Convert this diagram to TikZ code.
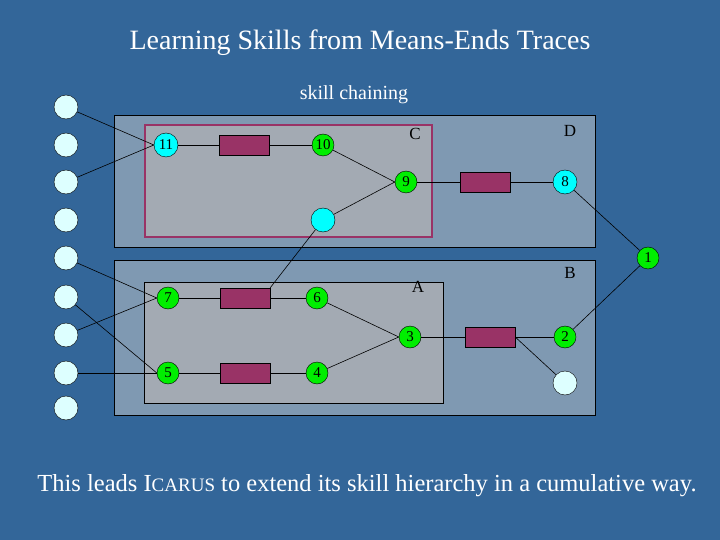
\documentclass[tikz,border=0pt]{standalone}
\usepackage{fontspec}
\setmainfont{Liberation Serif}
\begin{document}
\begin{tikzpicture}[x=1pt,y=-1pt,
  outerbox/.style={draw=black,fill=outerc},
  innerbox/.style={draw=black,fill=innerc},
  skillbox/.style={draw=maroonc,line width=2.5pt,fill=innerc},
  green/.style={circle,draw=black,fill=greenc,minimum width=22pt,inner sep=0pt,font=\fontsize{15}{15}\selectfont},
  cyan/.style={circle,draw=black,fill=cyanc,minimum width=24pt,inner sep=0pt,font=\fontsize{15}{15}\selectfont},
  pale/.style={circle,draw=black,fill=palec,minimum width=24pt,inner sep=0pt},
  op/.style={draw=black,fill=maroonc,minimum width=50pt,minimum height=20pt,inner sep=0pt},
  lbl/.style={font=\fontsize{17}{17}\selectfont},
  ln/.style={draw=black,line width=0.6pt}]
\definecolor{bgc}{HTML}{336699}
\definecolor{outerc}{HTML}{7F99B2}
\definecolor{innerc}{HTML}{A3AAB3}
\definecolor{maroonc}{HTML}{993366}
\definecolor{greenc}{HTML}{00EE00}
\definecolor{cyanc}{HTML}{00FFFF}
\definecolor{palec}{HTML}{DDFFFF}
\fill[bgc] (0,0) rectangle (720,540);
\useasboundingbox (0,0) rectangle (720,540);
\node[white,font=\fontsize{28}{28}\selectfont] (title) at (360,43) {Learning Skills from Means-Ends Traces};
\node[white,font=\fontsize{20}{20}\selectfont] (sub) at (354,95) {skill chaining};
\node[white,font=\fontsize{24.5}{24.5}\selectfont] (foot) at (367,486) {This leads I{\fontsize{19}{19}\selectfont CARUS} to extend its skill hierarchy in a cumulative way.};
% boxes
\draw[outerbox] (114,115) rectangle (595,247);
\draw[skillbox] (145,125) rectangle (432,237);
\draw[outerbox] (114,260) rectangle (595,415);
\draw[innerbox] (144,282) rectangle (443,403);
\node[lbl] (C) at (415,134) {C};
\node[lbl] (D) at (570,131) {D};
\node[lbl] (A) at (418,287) {A};
\node[lbl] (B) at (570,273) {B};
% left column
\foreach \i/\y in {1/107,2/145,3/182,4/220,5/258,6/297,7/335,8/373,9/408}
  \node[pale] (L\i) at (66,\y) {};
% top
\node[cyan] (n11) at (166,145) {11};
\node[op] (r1) at (244,145) {};
\node[green] (n10) at (323,145) {10};
\node[green] (n9) at (406,182) {9};
\node[cyan] (cy) at (323,220) {};
\node[op] (r2) at (485,182) {};
\node[cyan] (n8) at (565,182) {8};
\node[green] (n1) at (648,258) {1};
% bottom
\node[green] (n7) at (168,298) {7};
\node[op] (r3) at (245,298) {};
\node[green] (n6) at (317,298) {6};
\node[green] (n3) at (410,337) {3};
\node[op] (r4) at (490,337) {};
\node[green] (n2) at (565,337) {2};
\node[pale] (wh) at (565,383) {};
\node[green] (n5) at (168,373) {5};
\node[op] (r5) at (245,373) {};
\node[green] (n4) at (317,373) {4};
% connectors
\draw[ln] (L1) -- (n11.west); \draw[ln] (L3) -- (n11.west);
\draw[ln] (L5) -- (n7.west); \draw[ln] (L7) -- (n7.west);
\draw[ln] (L6) -- (n5.west); \draw[ln] (L8) -- (n5.west);
\draw[ln] (n11) -- (r1) -- (n10);
\draw[ln] (n10) -- (n9.west); \draw[ln] (cy) -- (n9.west);
\draw[ln] (n9) -- (r2) -- (n8);
\draw[ln] (n8) -- (n1); \draw[ln] (n1) -- (n2);
\draw[ln] (cy) -- (r3.north east);
\draw[ln] (n7) -- (r3) -- (n6);
\draw[ln] (n6) -- (n3.west); \draw[ln] (n4) -- (n3.west);
\draw[ln] (n3) -- (r4) -- (n2);
\draw[ln] (r4.east) -- (wh);
\draw[ln] (n5) -- (r5) -- (n4);
\end{tikzpicture}
\end{document}
